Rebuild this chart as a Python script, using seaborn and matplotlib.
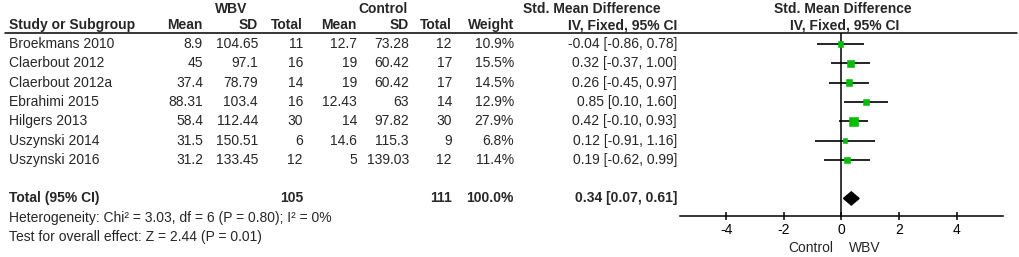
import numpy as np
import pandas as pd
import seaborn as sns
import matplotlib.pyplot as plt
from matplotlib import transforms
from matplotlib.lines import Line2D

# study rows
studies = ['Broekmans 2010', 'Claerbout 2012', 'Claerbout 2012a', 'Ebrahimi 2015',
           'Hilgers 2013', 'Uszynski 2014', 'Uszynski 2016']
wbv_mean = [8.9, 45, 37.4, 88.31, 58.4, 31.5, 31.2]
wbv_sd = [104.65, 97.1, 78.79, 103.4, 112.44, 150.51, 133.45]
wbv_n = [11, 16, 14, 16, 30, 6, 12]
ctl_mean = [12.7, 19, 19, 12.43, 14, 14.6, 5]
ctl_sd = [73.28, 60.42, 60.42, 63, 97.82, 115.3, 139.03]
ctl_n = [12, 17, 17, 14, 30, 9, 12]
weight = [10.9, 15.5, 14.5, 12.9, 27.9, 6.8, 11.4]
smd = [-0.04, 0.32, 0.26, 0.85, 0.42, 0.12, 0.19]
ci_lo = [-0.86, -0.37, -0.45, 0.10, -0.10, -0.91, -0.62]
ci_hi = [0.78, 1.00, 0.97, 1.60, 0.93, 1.16, 0.99]

# pooled
tot_wbv_n = 105
tot_ctl_n = 111
tot_weight = 100.0
tot_smd, tot_lo, tot_hi = 0.34, 0.07, 0.61
het_text = 'Heterogeneity: Chi² = 3.03, df = 6 (P = 0.80); I² = 0%'
eff_text = 'Test for overall effect: Z = 2.44 (P = 0.01)'
xticks = [-4, -2, 0, 2, 4]

df = pd.DataFrame({'study': studies, 'smd': smd, 'lo': ci_lo, 'hi': ci_hi,
                   'w': weight, 'row': np.arange(len(studies))})

sns.set_theme(style='white')
plt.rcParams['font.family'] = ['Liberation Sans', 'DejaVu Sans']
plt.rcParams['axes.unicode_minus'] = False
FS = 10

W, H = 1020, 257
fig = plt.figure(figsize=(W / 100, H / 100), dpi=100)
ax = fig.add_axes([680 / W, (H - 216) / H, 323 / W, (216 - 33) / H])

# forest part
ax.hlines(df['row'], df['lo'], df['hi'], color='black', lw=1.2, zorder=2)
sns.scatterplot(data=df, x='smd', y='row', marker='s', s=df['w'] * 1.5,
                color='#00C000', edgecolor='#00C000', linewidth=0.4, ax=ax, zorder=3)
ax.axvline(0, color='black', lw=1.1, zorder=1)
trow = 8
hh = 0.34
ax.fill([tot_lo, tot_smd, tot_hi, tot_smd], [trow, trow - hh, trow, trow + hh],
        color='black', zorder=3)

ax.set_xlim(-5.6, 5.6)
ax.set_ylim(8.91, -0.57)
ax.set_xticks(xticks)
ax.set_xticklabels([str(t) for t in xticks], fontsize=FS)
ax.set_yticks([])
ax.set_xlabel('')
ax.set_ylabel('')
for s in ['top', 'left', 'right']:
    ax.spines[s].set_visible(False)
ax.spines['bottom'].set_color('black')
ax.spines['bottom'].set_linewidth(1.1)
ax.tick_params(axis='x', direction='inout', length=6, width=1.1, colors='black',
               pad=2, bottom=True)
ax.patch.set_visible(False)

ax.text(-0.3, 10.57, 'Control', ha='right', va='center', fontsize=FS, clip_on=False)
ax.text(0.25, 10.57, 'WBV', ha='left', va='center', fontsize=FS, clip_on=False)

# table part
tr = transforms.blended_transform_factory(fig.transFigure, ax.transData)


def put(px, row, s, ha='right', bold=False):
    fig.text(px / W, row, s, transform=tr, ha=ha, va='center', fontsize=FS,
             fontweight='bold' if bold else 'normal')


# headers
put(231, -1.81, 'WBV', ha='center', bold=True)
put(383, -1.81, 'Control', ha='center', bold=True)
put(592, -1.81, 'Std. Mean Difference', ha='center', bold=True)
put(843, -1.81, 'Std. Mean Difference', ha='center', bold=True)
put(9, -0.98, 'Study or Subgroup', ha='left', bold=True)
for px, lab in [(203, 'Mean'), (258, 'SD'), (303, 'Total'), (357, 'Mean'),
                (409, 'SD'), (452, 'Total'), (514, 'Weight'), (677, 'IV, Fixed, 95% CI')]:
    put(px, -0.98, lab, bold=True)
put(845, -0.98, 'IV, Fixed, 95% CI', ha='center', bold=True)

fig.add_artist(Line2D([5 / W, 1017 / W], [1 - 33 / H] * 2, transform=fig.transFigure,
                      color='black', lw=1.1))

for i in range(len(studies)):
    put(9, i, studies[i], ha='left')
    put(203, i, f'{wbv_mean[i]:g}')
    put(258, i, f'{wbv_sd[i]:g}')
    put(303, i, f'{wbv_n[i]}')
    put(357, i, f'{ctl_mean[i]:g}')
    put(409, i, f'{ctl_sd[i]:g}')
    put(452, i, f'{ctl_n[i]}')
    put(514, i, f'{weight[i]:.1f}%')
    put(677, i, f'{smd[i]:.2f} [{ci_lo[i]:.2f}, {ci_hi[i]:.2f}]')

put(9, trow, 'Total (95% CI)', ha='left', bold=True)
put(303, trow, f'{tot_wbv_n}', bold=True)
put(452, trow, f'{tot_ctl_n}', bold=True)
put(514, trow, f'{tot_weight:.1f}%', bold=True)
put(677, trow, f'{tot_smd:.2f} [{tot_lo:.2f}, {tot_hi:.2f}]', bold=True)
put(9, 9.0, het_text, ha='left')
put(9, 10.0, eff_text, ha='left')

fig.savefig('out.png', dpi=100)
